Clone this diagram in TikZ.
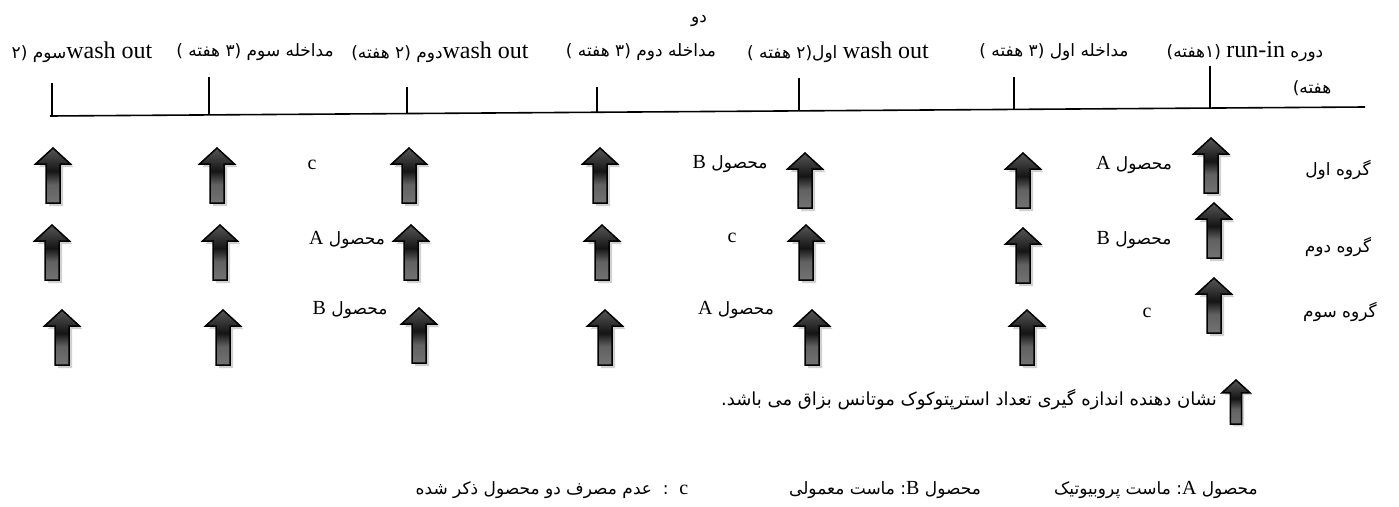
\documentclass[tikz,border=0pt]{standalone}
\usepackage{fontspec}
\setmainfont{Liberation Serif}
\newfontfamily\fa[Script=Arabic]{DejaVu Sans}
\TeXXeTstate=1
\usetikzlibrary{positioning}

% dark band just under the arrow head, lighter at both ends
\pgfdeclareverticalshading{arrowshade}{100bp}{color(0bp)=(black!55); color(25bp)=(black!55); color(42bp)=(black!62); color(54bp)=(black!92); color(62bp)=(black!82); color(75bp)=(black!66); color(100bp)=(black!66)}

\tikzset{
  blockarrow/.pic={
    \fill[black!18] (3,3) -- ++(17.5,16) -- ++(-10.5,0) -- ++(0,39) -- ++(-14,0) -- ++(0,-39) -- ++(-10.5,0) -- cycle;
    \shadedraw[shading=arrowshade, line width=1.5pt, line join=miter]
      (0,0) -- ++(17.5,16) -- ++(-10.5,0) -- ++(0,39) -- ++(-14,0) -- ++(0,-39) -- ++(-10.5,0) -- cycle;
  },
  fatext/.style={font=\fa\fontsize{17}{20}\selectfont, inner sep=0pt},
  bigfatext/.style={font=\fa\fontsize{18}{21}\selectfont, inner sep=0pt},
}
\newcommand\fw[1]{\beginR #1\endR}
\newcommand\lt[1]{\beginL{\rmfamily\fontsize{24}{28}\selectfont #1}\endL}
\newcommand\lc[1]{\beginL{\rmfamily\fontsize{20}{24}\selectfont #1}\endL}

\begin{document}
\begin{tikzpicture}[x=1pt,y=-1pt]
  \useasboundingbox (0,0) rectangle (1399,506);

  % time line
  \draw[line width=1.6pt] (50,116) -- (1365,107);
  \foreach \x/\t in {52/83,209/77,407/87,597/87,799/78,1014/77,1210/66}
    \draw[line width=1.6pt] (\x,\t) -- (\x,{116-9*(\x-50)/1315});

  % periods
  \node[fatext] (top1) at (1245,52) {\fw{دوره \lt{run-in} (۱هفته)}};
  \node[fatext] (top2) at (1054,52) {\fw{مداخله اول (۳ هفته )}};
  \node[fatext] (top3) at (838,52) {\fw{\lt{wash out} اول(۲ هفته )}};
  \node[fatext] (top4) at (641,52) {\fw{مداخله دوم  (۳ هفته )}};
  \node[fatext] (top5) at (440,52) {\fw{\lt{wash out}دوم  (۲ هفته)}};
  \node[fatext] (top6) at (255,52) {\fw{مداخله سوم (۳ هفته )}};
  \node[fatext] (top7) at (82,52) {\fw{\lt{wash out}سوم (۲}};
  \node[fatext] (wrap1) at (1312,88) {\fw{هفته)}};
  \node[fatext] (wrap2) at (699,21) {\fw{دو}};

  % groups
  \node[fatext] (g1) at (1338,170) {\fw{گروه اول}};
  \node[fatext] (g2) at (1338,247) {\fw{گروه دوم}};
  \node[fatext] (g3) at (1340,312) {\fw{گروه سوم}};

  % sampling points
  \foreach \x/\y in {53/148,217/148,409/148,600/148,805/153,1023/153,1211/138,
                     52/225,220/225,411/225,602/225,806/225,1023/228,1214/203,
                     62/310,223/310,419/308,605/310,812/310,1027/310,1214/278}
    \pic at (\x,\y) {blockarrow};

  % products
  \node[fatext] (c11) at (312,165) {\lc{c}};
  \node[fatext] (c12) at (730,164) {\fw{محصول  \lc{B}}};
  \node[fatext] (c13) at (1134,165) {\fw{محصول  \lc{A}}};
  \node[fatext] (c21) at (347,240) {\fw{محصول \lc{A}}};
  \node[fatext] (c22) at (732,238) {\lc{c}};
  \node[fatext] (c23) at (1134,240) {\fw{محصول  \lc{B}}};
  \node[fatext] (c31) at (350,310) {\fw{محصول  \lc{B}}};
  \node[fatext] (c32) at (736,310) {\fw{محصول \lc{A}}};
  \node[fatext] (c33) at (1147,313) {\lc{c}};

  % legend
  \pic[scale=0.8] at (1236,380) {blockarrow};
  \node[bigfatext] (leg) at (969,400) {\fw{نشان دهنده اندازه گیری تعداد استرپتوکوک موتانس بزاق می باشد.}};
  \node[fatext] (keyA) at (1156,490) {\fw{محصول \lc{A}: ماست پروبیوتیک}};
  \node[fatext] (keyB) at (885,490) {\fw{محصول \lc{B}: ماست معمولی}};
  \node[fatext] (keyC) at (552,490) {\fw{\lc{c}\ \ :\ \ عدم مصرف دو محصول ذکر شده}};
\end{tikzpicture}
\end{document}
